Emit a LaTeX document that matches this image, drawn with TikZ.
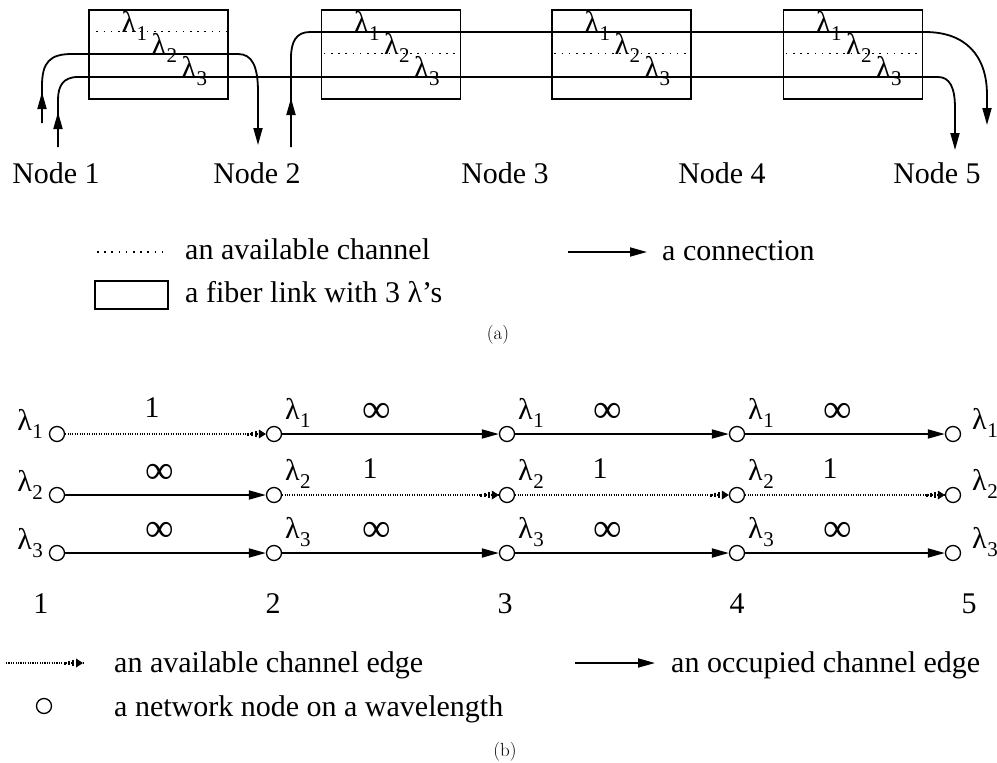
\documentclass[tikz,border=0pt]{standalone}
\usepackage{fontspec}
\setmainfont{Liberation Serif}
\newfontfamily\capfont{Latin Modern Roman}
\usetikzlibrary{arrows.meta,decorations.markings,calc}
\newcommand\lamb[1]{λ\kern0.5pt\raisebox{-0.28em}{\fontsize{21}{21}\selectfont #1}}
\newcommand\infsym{{\fontsize{40}{40}\selectfont ∞}}
\begin{document}
\begin{tikzpicture}[x=1pt,y=-1pt,
  every node/.style={font=\fontsize{30}{36}\selectfont, inner sep=0pt},
  fiber/.style={draw, line width=1.3pt, minimum width=139pt, minimum height=89pt, inner sep=0pt},
  conn/.style={line width=1.8pt, -{Triangle[length=17pt,width=9pt]}},
  midup/.style={postaction={decorate}, decoration={markings, mark=at position #1 with {\arrow{Triangle[length=17pt,width=9pt]}}}},
  availa/.style={line width=1.4pt, dash pattern=on 1.6pt off 5.6pt},
  vert/.style={draw, circle, line width=1.3pt, minimum size=15pt, inner sep=0pt},
  occ/.style={line width=1.8pt, -{Triangle[length=17pt,width=9pt]}},
  avail/.style={line width=1.3pt, dash pattern=on 1.1pt off 1.3pt, postaction={decorate},
    decoration={markings, mark=at position 1 with {
      \fill (-7,-4.5) -- (0,0) -- (-7,4.5) -- cycle;
      \foreach \d/\h in {10/3.2,14/2.4,18/1.5}
        {\draw[solid, line width=1.5pt] (-\d,-\h) -- (-\d,\h);}}}}
]
\useasboundingbox (0,0) rectangle (997,763);

% ---------- (a) ----------
\node[fiber] (b1) at (158.5,54.5) {};
\node[fiber] (b2) at (391,54.5) {};
\node[fiber] (b3) at (621.5,54.5) {};
\node[fiber] (b4) at (853,54.5) {};

% dotted (available) channels
\draw[availa] ($(b1.north west)+(8,22)$) -- ($(b1.north east)+(-2,22)$);
\foreach \b in {b2,b3,b4}
  \draw[availa] ($(\b.north west)+(3,44)$) -- ($(\b.north east)+(-6,44)$);

% wavelength labels in boxes
\foreach \b in {b1,b2,b3,b4}{
  \node[anchor=base west] at ($(\b.north west)+(33,23)$) {\lamb1};
  \node[anchor=base west] at ($(\b.north west)+(63,45)$) {\lamb2};
  \node[anchor=base west] at ($(\b.north west)+(93,68)$) {\lamb3};
}

% node labels
\node[anchor=base] (N1) at (56,183) {Node 1};
\node[anchor=base] (N2) at (257,183) {Node 2};
\node[anchor=base] (N3) at (505,183) {Node 3};
\node[anchor=base] (N4) at (722,183) {Node 4};
\node[anchor=base] (N5) at (937,183) {Node 5};

% connection endpoints
\coordinate (sA) at (42,123);  \coordinate (eA) at (258,145);
\coordinate (sB) at (58,147);  \coordinate (eB) at (955,150);
\coordinate (sC) at (291,147); \coordinate (eC) at (987,125);

% lambda2: Node1 -> Node2
\draw[conn, midup=31pt] (sA) -- (42,86) .. controls (42,62) and (50,54) .. (72,54)
  -- (238,54) .. controls (252,54) and (258,66) .. (258,92) -- (eA);
% lambda3: Node1 -> Node5
\draw[conn, midup=35pt] (sB) -- (58,100) .. controls (58,86) and (63,77) .. (78,77)
  -- (938,77) .. controls (950,77) and (955,88) .. (955,108) -- (eB);
% lambda1: Node2 -> Node5
\draw[conn, midup=49pt] (sC) -- (291,58) .. controls (291,42) and (296,32) .. (310,32)
  -- (925,32) .. controls (965,32) and (987,55) .. (987,95) -- (eC);

% legend (a)
\coordinate (ld1) at (97,252); \coordinate (ld2) at (167,252);
\draw[availa] (ld1) -- (ld2);
\node[anchor=base west] (lt1) at (185,259) {an available channel};
\node[fiber, minimum width=73pt, minimum height=28pt] (lb) at (131.5,295) {};
\node[anchor=base west] (lt2) at (185,302) {a fiber link with 3 λ’s};
\coordinate (lc1) at (568,252); \coordinate (lc2) at (647,252);
\draw[conn] (lc1) -- (lc2);
\node[anchor=base west] (lt3) at (662,260) {a connection};
\node[font=\capfont\fontsize{19}{22}\selectfont] (capa) at (498,335) {(a)};

% ---------- (b) ----------
\foreach \c/\x in {1/57,2/274,3/507,4/737,5/953}
  \foreach \r/\y in {1/434,2/495,3/553}
    \node[vert] (v\c\r) at (\x,\y) {};

% wavelength labels
\foreach \r/\y in {1/434,2/495,3/553}{
  \node[anchor=base east] at (43,\y-4) {\lamb{\r}};
  \foreach \x in {274,507,737}
    \node[anchor=base west] at (\x+11,\y-15) {\lamb{\r}};
  \node[anchor=base west] at (972,\y-5) {\lamb{\r}};
}

% edges
\draw[avail] (v11) -- (v21);
\draw[occ] (v21) -- (v31);
\draw[occ] (v31) -- (v41);
\draw[occ] (v41) -- (v51);
\draw[occ] (v12) -- (v22);
\draw[avail] (v22) -- (v32);
\draw[avail] (v32) -- (v42);
\draw[avail] (v42) -- (v52);
\draw[occ] (v13) -- (v23);
\draw[occ] (v23) -- (v33);
\draw[occ] (v33) -- (v43);
\draw[occ] (v43) -- (v53);

% weights
\node[anchor=base] at (152,417) {1};
\node at (377,413) {\infsym};
\node at (608,413) {\infsym};
\node at (838,413) {\infsym};
\node at (160,474) {\infsym};
\node[anchor=base] at (370,478) {1};
\node[anchor=base] at (600,478) {1};
\node[anchor=base] at (830,478) {1};
\node at (160,532) {\infsym};
\node at (377,532) {\infsym};
\node at (608,532) {\infsym};
\node at (838,532) {\infsym};

% node numbers
\foreach \k/\x in {1/41,2/273,3/505,4/737,5/969}
  \node[anchor=base] at (\x,613) {\k};

% legend (b)
\coordinate (la1) at (6,663); \coordinate (la2) at (83,663);
\draw[avail] (la1) -- (la2);
\node[anchor=base west] (lbt1) at (114,672) {an available channel edge};
\coordinate (lo1) at (575,663); \coordinate (lo2) at (655,663);
\draw[occ] (lo1) -- (lo2);
\node[anchor=base west] (lbt2) at (671,672) {an occupied channel edge};
\node[vert] (lv) at (44,706) {};
\node[anchor=base west] (lbt3) at (114,716) {a network node on a wavelength};
\node[font=\capfont\fontsize{19}{22}\selectfont] (capb) at (505,752) {(b)};
\end{tikzpicture}
\end{document}
